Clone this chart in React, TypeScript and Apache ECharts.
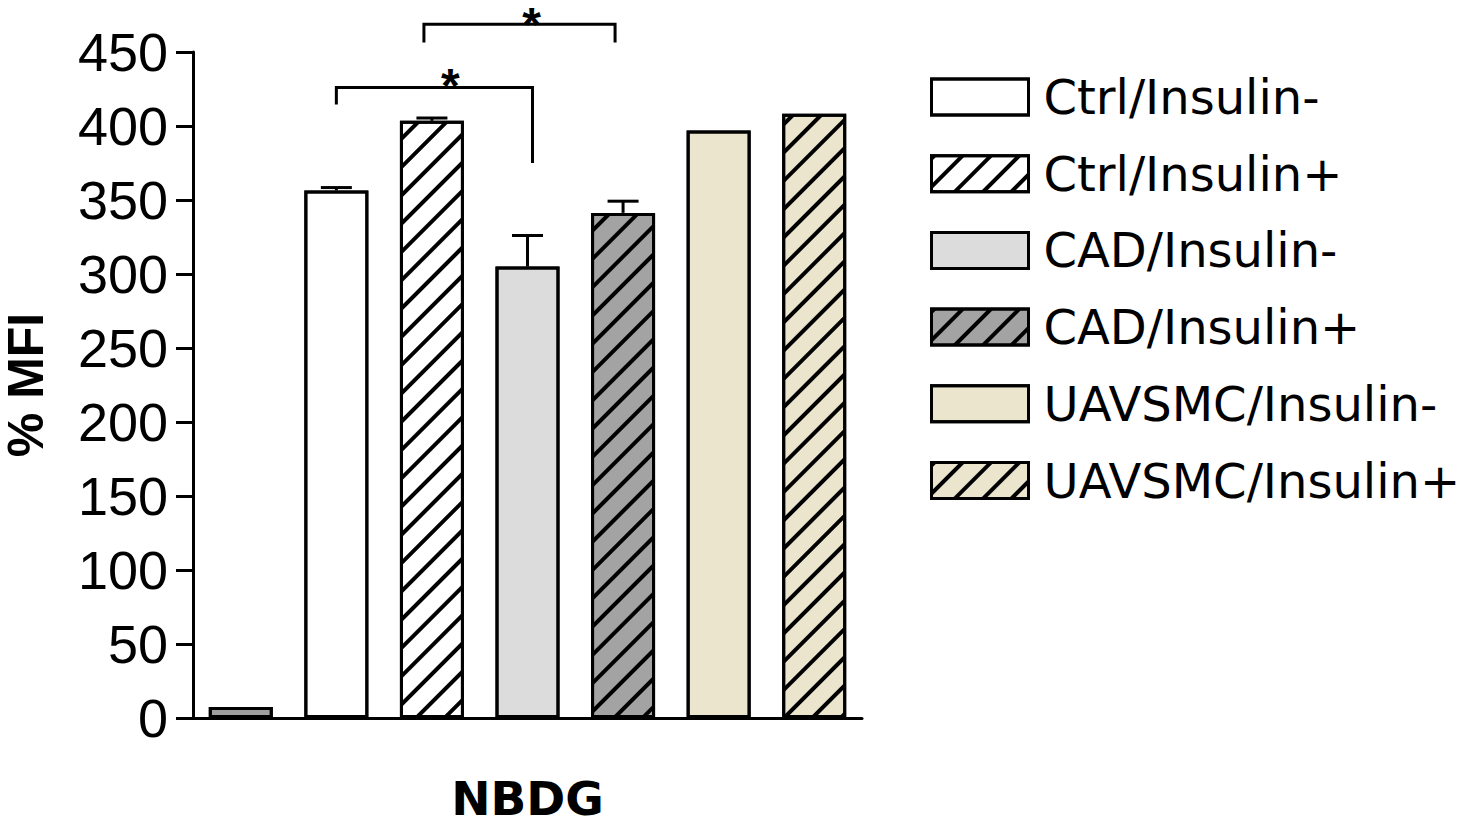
import React, { useEffect, useRef } from "react";
import * as echarts from "echarts";

// ---- data ----
const categories = [
  "Blank",
  "Ctrl/Insulin-",
  "Ctrl/Insulin+",
  "CAD/Insulin-",
  "CAD/Insulin+",
  "UAVSMC/Insulin-",
  "UAVSMC/Insulin+",
];
const means = [7.5, 356.5, 403.5, 305, 341.3, 397, 408.3];
const upperErr: (number | null)[] = [null, 358.4, 405.4, 326, 349.2, null, null];
const yTicks = { min: 0, max: 450, interval: 50 };
const axisTitleX = "NBDG";
const axisTitleY = "% MFI";
// significance brackets: [fromIndex, toIndex, level, leftLegBottom, rightLegBottom]
const brackets = [
  [1, 3, 426, 414.5, 375],
  [2, 4, 468.7, 456.4, 456.4],
];
const bracketLabels = ["*", "*"];

// ---- styles ----
const fills = ["#a0a0a0", "#ffffff", "#ffffff", "#dcdcdc", "#a3a3a3", "#ebe5cd", "#ebe5cd"];
const hatched = [false, false, true, false, true, false, true];
const legShift = [
  [0, 5],
  [-8, -8],
];
const starShift = [16, 12];
const starDy = [-2, 0];

const hatchDecal = {
  symbol: "rect",
  symbolSize: 1,
  color: "#000",
  dashArrayX: [1, 0],
  dashArrayY: [3.6, 15.4],
  rotation: -Math.PI / 4,
};

export default function App() {
  const ref = useRef<HTMLDivElement>(null);

  useEffect(() => {
    if (!ref.current) return;
    const chart = echarts.init(ref.current, null, { renderer: "svg" });

    const barSeries = categories.map((name, i) => ({
      name,
      type: "bar",
      barWidth: 64,
      barGap: "-100%",
      data: categories.map((_, j) => (j === i ? means[i] : "-")),
      itemStyle: {
        color: fills[i],
        borderColor: "#000",
        borderWidth: 3,
        decal: hatched[i] ? hatchDecal : { symbol: "none" },
      },
      emphasis: { disabled: true },
      z: 2,
    }));

    const errData = means
      .map((m, i) => (upperErr[i] == null ? null : [i, m, upperErr[i]]))
      .filter((d) => d !== null);

    const errSeries = {
      type: "custom",
      name: "err",
      data: errData,
      encode: { x: 0, y: [1, 2] },
      z: 5,
      silent: true,
      renderItem: (params: any, api: any) => {
        const idx = api.value(0);
        const base = api.coord([idx, api.value(1)]);
        const top = api.coord([idx, api.value(2)]);
        const half = 15.5;
        return {
          type: "group",
          children: [
            {
              type: "line",
              shape: { x1: top[0], y1: base[1], x2: top[0], y2: top[1] },
              style: { stroke: "#000", lineWidth: 3 },
            },
            {
              type: "line",
              shape: { x1: top[0] - half, y1: top[1], x2: top[0] + half, y2: top[1] },
              style: { stroke: "#000", lineWidth: 3 },
            },
          ],
        };
      },
    };

    const bracketSeries = {
      type: "custom",
      name: "sig",
      data: brackets,
      encode: { x: [0, 1], y: [2, 3, 4] },
      z: 6,
      silent: true,
      clip: false,
      renderItem: (params: any, api: any) => {
        const k = params.dataIndex;
        const a = api.value(0);
        const b = api.value(1);
        const lvl = api.value(2);
        const lb = api.value(3);
        const rb = api.value(4);
        const pL = api.coord([a, lvl]);
        const pR = api.coord([b, lvl]);
        const pLb = api.coord([a, lb]);
        const pRb = api.coord([b, rb]);
        const xL = pL[0] + legShift[k][0];
        const xR = pR[0] + legShift[k][1];
        const y = pL[1];
        return {
          type: "group",
          children: [
            {
              type: "polyline",
              shape: {
                points: [
                  [xL, pLb[1]],
                  [xL, y],
                  [xR, y],
                  [xR, pRb[1]],
                ],
              },
              style: { stroke: "#000", lineWidth: 3, fill: "none" },
            },
            {
              type: "text",
              x: (xL + xR) / 2 + starShift[k],
              y: y + starDy[k],
              style: {
                text: bracketLabels[k],
                fontSize: 48,
                lineHeight: 20,
                fontWeight: "bold",
                fontFamily: "Liberation Sans, Arial, sans-serif",
                fill: "#000",
                align: "center",
                verticalAlign: "middle",
              },
            },
          ],
        };
      },
    };

    chart.setOption({
      animation: false,
      backgroundColor: "#ffffff",
      grid: { left: 190, right: 618, top: 52, bottom: 107.5, containLabel: false },
      legend: {
        data: categories.slice(1),
        orient: "vertical",
        left: 930,
        top: 73,
        padding: 0,
        itemWidth: 97,
        itemHeight: 36,
        itemGap: 28.7,
        icon: "rect",
        selectedMode: false,
        itemStyle: { borderColor: "#000", borderWidth: 3 },
        textStyle: {
          fontFamily: "DejaVu Sans, sans-serif",
          fontSize: 48,
          lineHeight: 36,
          color: "#000",
          padding: [0, 0, 0, 10],
        },
      },
      xAxis: {
        type: "category",
        data: categories,
        name: axisTitleX,
        nameLocation: "middle",
        nameGap: 57,
        nameTextStyle: {
          fontFamily: "DejaVu Sans, sans-serif",
          fontWeight: "bold",
          fontSize: 47,
          color: "#000",
        },
        axisLine: { lineStyle: { color: "#000", width: 3 } },
        axisTick: { show: false },
        axisLabel: { show: false },
        splitLine: { show: false },
      },
      yAxis: {
        type: "value",
        min: yTicks.min,
        max: yTicks.max,
        interval: yTicks.interval,
        name: axisTitleY,
        nameLocation: "middle",
        nameGap: 147,
        nameRotate: 90,
        nameTextStyle: {
          fontFamily: "Liberation Sans, Arial, sans-serif",
          fontWeight: "bold",
          fontSize: 50,
          lineHeight: 40,
          color: "#000",
        },
        axisLine: { show: true, lineStyle: { color: "#000", width: 3 } },
        axisTick: { show: true, length: 17, lineStyle: { color: "#000", width: 3 } },
        axisLabel: {
          margin: 25,
          fontFamily: "Liberation Sans, Arial, sans-serif",
          fontSize: 54,
          color: "#000",
        },
        splitLine: { show: false },
      },
      series: [...barSeries, errSeries, bracketSeries],
    } as any);

    return () => chart.dispose();
  }, []);

  return (
    <div
      ref={ref}
      style={{ position: "absolute", left: 0, top: 0, width: 1480, height: 827, background: "#fff" }}
    />
  );
}
